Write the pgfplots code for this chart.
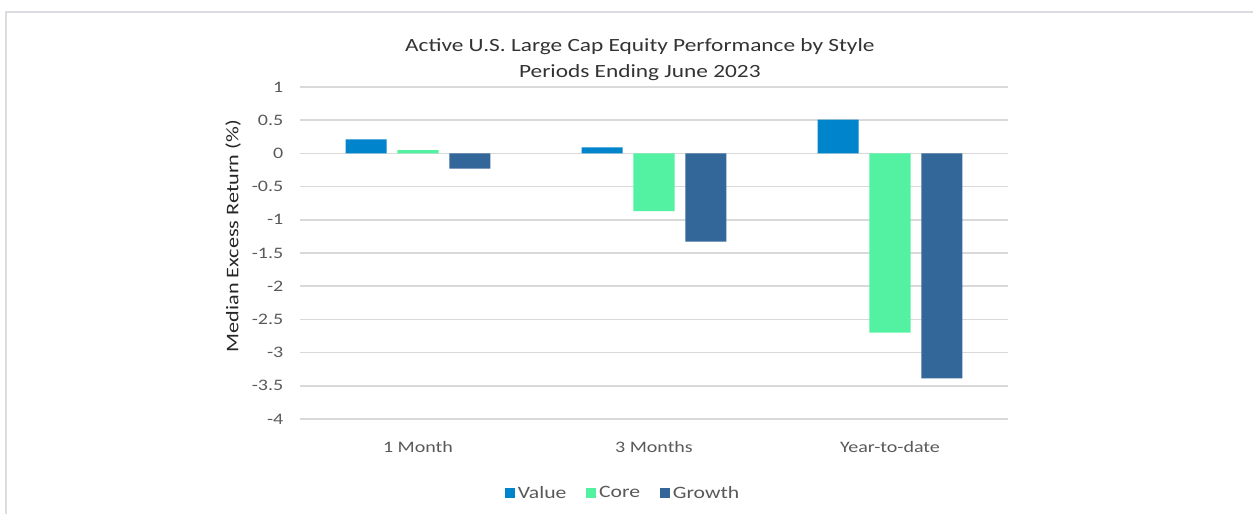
\documentclass[border=0pt]{standalone}
\usepackage{pgfplots}
\pgfplotsset{compat=1.18}
\usepackage{fontspec}
\setmainfont{Carlito}[FakeStretch=1.25]
\definecolor{cval}{RGB}{0,132,204}
\definecolor{ccore}{RGB}{82,242,162}
\definecolor{cgrowth}{RGB}{51,102,153}
\definecolor{cgrid}{RGB}{217,217,217}
\definecolor{ctext}{RGB}{89,89,89}
\definecolor{cframe}{RGB}{218,220,224}
\begin{document}
\begin{tikzpicture}
\path[use as bounding box] (0,0) rectangle (939.75pt,385.5pt);
\draw[cframe, line width=1.5pt] (4.5pt,0) -- (4.5pt,376.5pt) -- (939.75pt,376.5pt);
\begin{axis}[
  at={(225pt,71.25pt)}, anchor=south west,
  scale only axis, width=531pt, height=249pt,
  xmin=-0.5, xmax=2.5, ymin=-4, ymax=1,
  ytick={-4,-3.5,...,1},
  xtick={0,1,2},
  xticklabels={1 Month,3 Months,Year-to-date},
  /pgf/number format/assume math mode=true,
  yticklabel={\pgfmathprintnumber[fixed,precision=1]{\tick}},
  axis line style={draw=none},
  major tick length=0pt,
  ymajorgrids, grid style={cgrid, line width=1.1pt},
  tick label style={font=\fontsize{12}{14}\selectfont, text=ctext},
  yticklabel style={xshift=-9pt},
  xticklabel style={yshift=-13pt},
  ylabel={Median Excess Return (\%)},
  ylabel style={at={(axis description cs:-0.0946,0.551)}, anchor=center, font=\fontsize{13.3}{15}\selectfont, text=black!85},
  title={Active U.S. Large Cap Equity Performance by Style\\Periods Ending June 2023},
  title style={at={(axis description cs:0.48,1)}, anchor=south, align=center, yshift=-5pt, font=\fontsize{14}{20}\selectfont, text=black!80},
  ybar, bar width=0.174,
  legend columns=3,
  legend style={at={(axis description cs:0.457,-0.223)}, anchor=center, draw=none, font=\fontsize{13}{15}\selectfont, text=ctext, /tikz/every even column/.append style={column sep=13pt}},
  legend image code/.code={\fill[#1] (0pt,-3.5pt) rectangle (7.5pt,4pt);},
]
\addplot[fill=cval, draw=none, bar shift=-0.22] coordinates {(0,0.21) (1,0.09) (2,0.51)};
\addplot[fill=ccore, draw=none, bar shift=0] coordinates {(0,0.05) (1,-0.87) (2,-2.70)};
\addplot[fill=cgrowth, draw=none, bar shift=0.22] coordinates {(0,-0.23) (1,-1.33) (2,-3.39)};
\legend{Value,Core,Growth}
\end{axis}
\end{tikzpicture}
\end{document}
